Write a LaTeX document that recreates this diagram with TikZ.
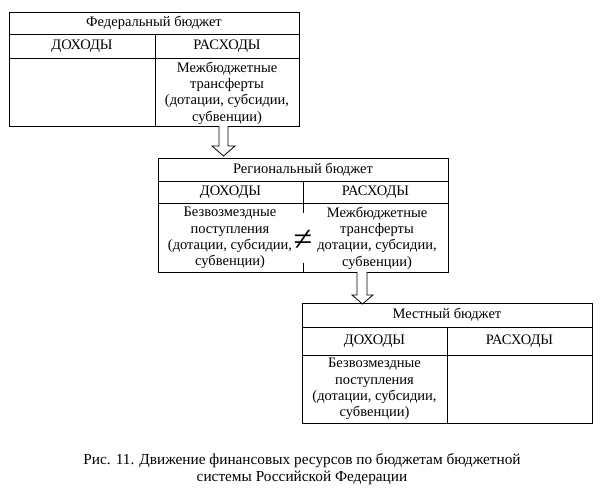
\documentclass[tikz,border=0pt]{standalone}
\usepackage{fontspec}
\setmainfont{Liberation Serif}
\begin{document}
\begin{tikzpicture}[x=1pt,y=-1pt,line width=0.9pt,
  txt/.style={font=\fontsize{14.5}{16.3}\selectfont, align=center, inner sep=0pt},
  captxt/.style={font=\fontsize{15.3}{16.5}\selectfont, align=center, inner sep=0pt},
  blockarrow/.style={draw, fill=white, line width=0.8pt, line join=miter}]
\useasboundingbox (0,0) rectangle (600,489);
% Federal budget
\draw (9,12) rectangle (299,126);
\draw (9,34) -- (299,34);
\draw (9,58) -- (299,58);
\draw (155,34) -- (155,126);
\node[txt] (ft) at (154,23) {Федеральный бюджет};
\node[txt] (fd) at (82,46) {ДОХОДЫ};
\node[txt] (fr) at (227,46) {РАСХОДЫ};
\node[txt] (fc) at (227,93) {Межбюджетные\\трансферты\\(дотации, субсидии,\\субвенции)};
% arrow 1
\draw[blockarrow] (219,126) -- (219,146) -- (212,146) -- (223.5,156) -- (235,146) -- (228,146) -- (228,126);
% Regional budget
\draw (158,158) rectangle (448,272);
\draw (158,181) -- (448,181);
\draw (158,203) -- (448,203);
\draw (303,181) -- (303,213);
\draw (303,263) -- (303,272);
\node[txt] (rt) at (303,169.5) {Региональный бюджет};
\node[txt] (rd) at (230.5,192) {ДОХОДЫ};
\node[txt] (rr) at (375.5,192) {РАСХОДЫ};
\node[txt] (rcl) at (230,238) {Безвозмездные\\поступления\\(дотации, субсидии,\\субвенции)};
\node[txt] (rcr) at (377,238) {Межбюджетные\\трансферты\\дотации, субсидии,\\субвенции)};
\node[inner sep=0pt, font=\fontsize{34}{34}\selectfont] (neq) at (303,240) {≠};
% arrow 2
\draw[blockarrow] (357,272) -- (357,295) -- (352,295) -- (362.5,304) -- (373,295) -- (367,295) -- (367,272);
% Local budget
\draw (302,303) rectangle (592,423);
\draw (302,327) -- (592,327);
\draw (302,355) -- (592,355);
\draw (447,327) -- (447,423);
\node[txt] (lt) at (447,315) {Местный бюджет};
\node[txt] (ld) at (374.5,341) {ДОХОДЫ};
\node[txt] (lr) at (519.5,341) {РАСХОДЫ};
\node[txt] (lc) at (374.5,389) {Безвозмездные\\поступления\\(дотации, субсидии,\\субвенции)};
% caption
\node[captxt] (cap) at (302,469) {Рис. 11. Движение финансовых ресурсов по бюджетам бюджетной\\системы Российской Федерации};
\end{tikzpicture}
\end{document}
